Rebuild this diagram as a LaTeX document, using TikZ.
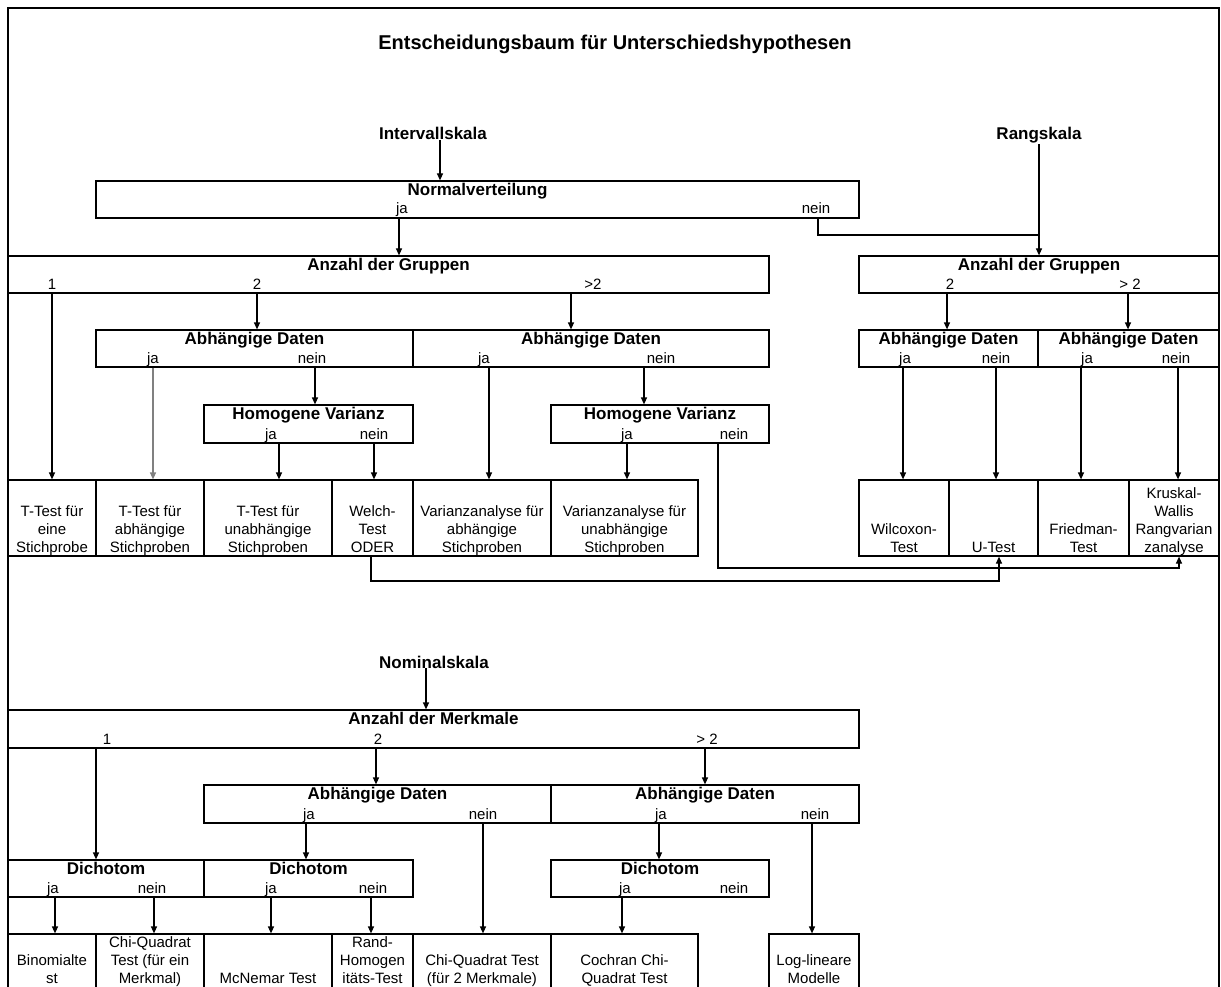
\documentclass[tikz,border=0pt]{standalone}
\usepackage{fontspec}
\setmainfont{Liberation Sans}
\usepackage{tikz}
\usetikzlibrary{arrows.meta}
\newcommand\hdrfont{\fontsize{17}{20}\selectfont\bfseries}
\newcommand\lblfont{\fontsize{15}{18}\selectfont}
\tikzset{
  box/.style={
    rectangle, draw, line width=1.2pt,
    inner sep=0pt, minimum height=#1},
  box/.default=37pt,
  hdr/.style={font=\hdrfont, inner sep=0pt, anchor=base},
  lbl/.style={font=\lblfont, inner sep=0pt, anchor=base},
  celltxt/.style={
    font=\lblfont, align=center, inner sep=0pt,
    anchor=south, execute at end node=\strut},
  arr/.style={-{Triangle[length=7pt,width=6pt]}, line width=1.2pt},
  wire/.style={line width=1.2pt},
}

\begin{document}
\begin{tikzpicture}[x=1pt,y=-1pt]
  \useasboundingbox (0,0) rectangle (1221,987);
  \fill[white] (0,0) rectangle (1221,987);
  \clip (0,0) rectangle (1221,987);
  \draw[wire] (8,8) rectangle (1219,1050);

  \node[font=\fontsize{20}{24}\selectfont\bfseries, inner sep=0pt, anchor=base] (title) at (615,50) {Entscheidungsbaum für Unterschiedshypothesen};

  % Intervallskala
  \node[hdr] (iv) at (433,140) {Intervallskala};
  \node[box, minimum width=763pt] (nv) at (477.5,199.5) {};
  \node[hdr] (nvH) at ([yshift=-15pt]nv.north) {Normalverteilung};
  \node[lbl] (nvJa) at (402,214) {ja};
  \node[lbl] (nvNein) at (816,214) {nein};

  \node[box, minimum width=761pt] (gr1) at (388.5,274.5) {};
  \node[hdr] (gr1H) at ([yshift=-15pt]gr1.north) {Anzahl der Gruppen};
  \node[lbl] (gr1a) at (52,289) {1};
  \node[lbl] (gr1b) at (257,289) {2};
  \node[lbl] (gr1c) at (593,289) {>2};

  \node[box, minimum width=317pt] (ad1) at (254.5,348.5) {};
  \node[hdr] (ad1H) at ([yshift=-15pt]ad1.north) {Abhängige Daten};
  \node[lbl] (ad1Ja) at (153,363) {ja};
  \node[lbl] (ad1Nein) at (312,363) {nein};
  \node[box, minimum width=356pt] (ad2) at (591,348.5) {};
  \node[hdr] (ad2H) at ([yshift=-15pt]ad2.north) {Abhängige Daten};
  \node[lbl] (ad2Ja) at (484,363) {ja};
  \node[lbl] (ad2Nein) at (661,363) {nein};

  \node[box=38pt, minimum width=209pt] (hv1) at (308.5,424) {};
  \node[hdr] (hv1H) at ([yshift=-15pt]hv1.north) {Homogene Varianz};
  \node[lbl] (hv1Ja) at (271,439) {ja};
  \node[lbl] (hv1Nein) at (374,439) {nein};
  \node[box=38pt, minimum width=218pt] (hv2) at (660,424) {};
  \node[hdr] (hv2H) at ([yshift=-15pt]hv2.north) {Homogene Varianz};
  \node[lbl] (hv2Ja) at (627,439) {ja};
  \node[lbl] (hv2Nein) at (734,439) {nein};

  \node[box=76pt, minimum width=88pt] (t1) at (52,518) {};
  \node[box=76pt, minimum width=108pt] (t2) at (150,518) {};
  \node[box=76pt, minimum width=128pt] (t3) at (268,518) {};
  \node[box=76pt, minimum width=81pt] (t4) at (372.5,518) {};
  \node[box=76pt, minimum width=138pt] (t5) at (482,518) {};
  \node[box=76pt, minimum width=147pt] (t6) at (624.5,518) {};
  \node[celltxt] (t1t) at ([yshift=-1.4pt]t1.south) {T-Test für\\eine\\Stichprobe};
  \node[celltxt] (t2t) at ([yshift=-1.4pt]t2.south) {T-Test für\\abhängige\\Stichproben};
  \node[celltxt] (t3t) at ([yshift=-1.4pt]t3.south) {T-Test für\\unabhängige\\Stichproben};
  \node[celltxt] (t4t) at ([yshift=-1.4pt]t4.south) {Welch-\\Test\\ODER};
  \node[celltxt] (t5t) at ([yshift=-1.4pt]t5.south) {Varianzanalyse für\\abhängige\\Stichproben};
  \node[celltxt] (t6t) at ([yshift=-1.4pt]t6.south) {Varianzanalyse für\\unabhängige\\Stichproben};

  % Rangskala
  \node[hdr] (rk) at (1039,140) {Rangskala};
  \node[box, minimum width=360pt] (gr2) at (1039,274.5) {};
  \node[hdr] (gr2H) at ([yshift=-15pt]gr2.north) {Anzahl der Gruppen};
  \node[lbl] (gr2a) at (950,289) {2};
  \node[lbl] (gr2b) at (1130,289) {> 2};

  \node[box, minimum width=179pt] (ad3) at (948.5,348.5) {};
  \node[hdr] (ad3H) at ([yshift=-15pt]ad3.north) {Abhängige Daten};
  \node[lbl] (ad3Ja) at (905,363) {ja};
  \node[lbl] (ad3Nein) at (996,363) {nein};
  \node[box, minimum width=181pt] (ad4) at (1128.5,348.5) {};
  \node[hdr] (ad4H) at ([yshift=-15pt]ad4.north) {Abhängige Daten};
  \node[lbl] (ad4Ja) at (1087,363) {ja};
  \node[lbl] (ad4Nein) at (1176,363) {nein};

  \node[box=76pt, minimum width=90pt] (r1) at (904,518) {};
  \node[box=76pt, minimum width=89pt] (r2) at (993.5,518) {};
  \node[box=76pt, minimum width=91pt] (r3) at (1083.5,518) {};
  \node[box=76pt, minimum width=90pt] (r4) at (1174,518) {};
  \node[celltxt] (r1t) at ([yshift=-1.4pt]r1.south) {Wilcoxon-\\Test};
  \node[celltxt] (r2t) at ([yshift=-1.4pt]r2.south) {U-Test};
  \node[celltxt] (r3t) at ([yshift=-1.4pt]r3.south) {Friedman-\\Test};
  \node[celltxt] (r4t) at ([yshift=-1.4pt]r4.south) {Kruskal-\\Wallis\\Rangvarian\\zanalyse};

  % Nominalskala
  \node[hdr] (ns) at (434,668) {Nominalskala};
  \node[box=38pt, minimum width=851pt] (mm) at (433.5,729) {};
  \node[hdr] (mmH) at ([yshift=-15pt]mm.north) {Anzahl der Merkmale};
  \node[lbl] (mm1) at (107,744) {1};
  \node[lbl] (mm2) at (378,744) {2};
  \node[lbl] (mm3) at (707,744) {> 2};

  \node[box=38pt, minimum width=347pt] (ad5) at (377.5,804) {};
  \node[hdr] (ad5H) at ([yshift=-15pt]ad5.north) {Abhängige Daten};
  \node[lbl] (ad5Ja) at (309,819) {ja};
  \node[lbl] (ad5Nein) at (483,819) {nein};
  \node[box=38pt, minimum width=308pt] (ad6) at (705,804) {};
  \node[hdr] (ad6H) at ([yshift=-15pt]ad6.north) {Abhängige Daten};
  \node[lbl] (ad6Ja) at (661,819) {ja};
  \node[lbl] (ad6Nein) at (815,819) {nein};

  \node[box, minimum width=196pt] (d1) at (106,878.5) {};
  \node[hdr] (d1H) at ([yshift=-15pt]d1.north) {Dichotom};
  \node[lbl] (d1Ja) at (53,893) {ja};
  \node[lbl] (d1Nein) at (152,893) {nein};
  \node[box, minimum width=209pt] (d2) at (308.5,878.5) {};
  \node[hdr] (d2H) at ([yshift=-15pt]d2.north) {Dichotom};
  \node[lbl] (d2Ja) at (271,893) {ja};
  \node[lbl] (d2Nein) at (373,893) {nein};
  \node[box, minimum width=218pt] (d3) at (660,878.5) {};
  \node[hdr] (d3H) at ([yshift=-15pt]d3.north) {Dichotom};
  \node[lbl] (d3Ja) at (625,893) {ja};
  \node[lbl] (d3Nein) at (734,893) {nein};

  \node[box=58pt, minimum width=88pt] (n1) at (52,963) {};
  \node[box=58pt, minimum width=108pt] (n2) at (150,963) {};
  \node[box=58pt, minimum width=128pt] (n3) at (268,963) {};
  \node[box=58pt, minimum width=81pt] (n4) at (372.5,963) {};
  \node[box=58pt, minimum width=138pt] (n5) at (482,963) {};
  \node[box=58pt, minimum width=147pt] (n6) at (624.5,963) {};
  \node[box=58pt, minimum width=90pt] (n7) at (814,963) {};
  \node[celltxt] (n1t) at ([yshift=3.6pt]n1.south) {Binomialte\\st};
  \node[celltxt] (n2t) at ([yshift=3.6pt]n2.south) {Chi-Quadrat\\Test (für ein\\Merkmal)};
  \node[celltxt] (n3t) at ([yshift=3.6pt]n3.south) {McNemar Test};
  \node[celltxt] (n4t) at ([yshift=3.6pt]n4.south) {Rand-\\Homogen\\itäts-Test};
  \node[celltxt] (n5t) at ([yshift=3.6pt]n5.south) {Chi-Quadrat Test\\(für 2 Merkmale)};
  \node[celltxt] (n6t) at ([yshift=3.6pt]n6.south) {Cochran Chi-\\Quadrat Test};
  \node[celltxt] (n7t) at ([yshift=3.6pt]n7.south) {Log-lineare\\Modelle};

  % connectors, Intervallskala
  \draw[arr] ([xshift=7pt]iv.south) -- ([xshift=7pt]iv.south |- nv.north);
  \draw[arr] ([xshift=-3pt]nvJa |- nv.south) -- ([xshift=-3pt]nvJa |- gr1.north);
  \coordinate (rkJoin) at (1039,235);
  \draw[wire] ([xshift=2pt]nvNein |- nv.south) |- (rkJoin);
  \draw[arr] (rk.south) -- (rk.south |- gr2.north);
  \draw[arr] (gr1a |- gr1.south) -- (gr1a |- t1.north);
  \draw[arr] (gr1b |- gr1.south) -- (gr1b |- ad1.north);
  \draw[arr] ([xshift=-22pt]gr1c |- gr1.south) -- ([xshift=-22pt]gr1c |- ad2.north);
  \draw[arr, draw=gray] (ad1Ja |- ad1.south) -- (ad1Ja |- t2.north);
  \draw[arr] ([xshift=3pt]ad1Nein |- ad1.south) -- ([xshift=3pt]ad1Nein |- hv1.north);
  \draw[arr] ([xshift=8pt]hv1Ja |- hv1.south) -- ([xshift=8pt]hv1Ja |- t3.north);
  \draw[arr] (hv1Nein |- hv1.south) -- (hv1Nein |- t4.north);
  \draw[arr] ([xshift=5pt]ad2Ja |- ad2.south) -- ([xshift=5pt]ad2Ja |- t5.north);
  \draw[arr] ([xshift=-17pt]ad2Nein |- ad2.south) -- ([xshift=-17pt]ad2Nein |- hv2.north);
  \draw[arr] (hv2Ja |- hv2.south) -- (hv2Ja |- t6.north);
  \coordinate (kwVia) at (1179,568);
  \draw[arr] ([xshift=-16pt]hv2Nein |- hv2.south) |- (kwVia) -- (kwVia |- r4.south);
  \coordinate (utVia) at (999,581);
  \draw[arr] ([xshift=-1.5pt]t4.south) |- (utVia) -- (utVia |- r2.south);

  % connectors, Rangskala
  \draw[arr] ([xshift=-3pt]gr2a |- gr2.south) -- ([xshift=-3pt]gr2a |- ad3.north);
  \draw[arr] ([xshift=-2pt]gr2b |- gr2.south) -- ([xshift=-2pt]gr2b |- ad4.north);
  \draw[arr] ([xshift=-2pt]ad3Ja |- ad3.south) -- ([xshift=-2pt]ad3Ja |- r1.north);
  \draw[arr] (ad3Nein |- ad3.south) -- (ad3Nein |- r2.north);
  \draw[arr] ([xshift=-6pt]ad4Ja |- ad4.south) -- ([xshift=-6pt]ad4Ja |- r3.north);
  \draw[arr] ([xshift=2pt]ad4Nein |- ad4.south) -- ([xshift=2pt]ad4Nein |- r4.north);

  % connectors, Nominalskala
  \draw[arr] ([xshift=-8pt]ns.south) -- ([xshift=-8pt]ns.south |- mm.north);
  \draw[arr] ([xshift=-11pt]mm1 |- mm.south) -- ([xshift=-11pt]mm1 |- d1.north);
  \draw[arr] ([xshift=-2pt]mm2 |- mm.south) -- ([xshift=-2pt]mm2 |- ad5.north);
  \draw[arr] ([xshift=-2pt]mm3 |- mm.south) -- ([xshift=-2pt]mm3 |- ad6.north);
  \draw[arr] ([xshift=-3pt]ad5Ja |- ad5.south) -- ([xshift=-3pt]ad5Ja |- d2.north);
  \draw[arr] (ad5Nein |- ad5.south) -- (ad5Nein |- n5.north);
  \draw[arr] ([xshift=-2pt]ad6Ja |- ad6.south) -- ([xshift=-2pt]ad6Ja |- d3.north);
  \draw[arr] ([xshift=-3pt]ad6Nein |- ad6.south) -- ([xshift=-3pt]ad6Nein |- n7.north);
  \draw[arr] ([xshift=2pt]d1Ja |- d1.south) -- ([xshift=2pt]d1Ja |- n1.north);
  \draw[arr] ([xshift=2pt]d1Nein |- d1.south) -- ([xshift=2pt]d1Nein |- n2.north);
  \draw[arr] (d2Ja |- d2.south) -- (d2Ja |- n3.north);
  \draw[arr] ([xshift=-2pt]d2Nein |- d2.south) -- ([xshift=-2pt]d2Nein |- n4.north);
  \draw[arr] ([xshift=-3pt]d3Ja |- d3.south) -- ([xshift=-3pt]d3Ja |- n6.north);
\end{tikzpicture}
\end{document}
